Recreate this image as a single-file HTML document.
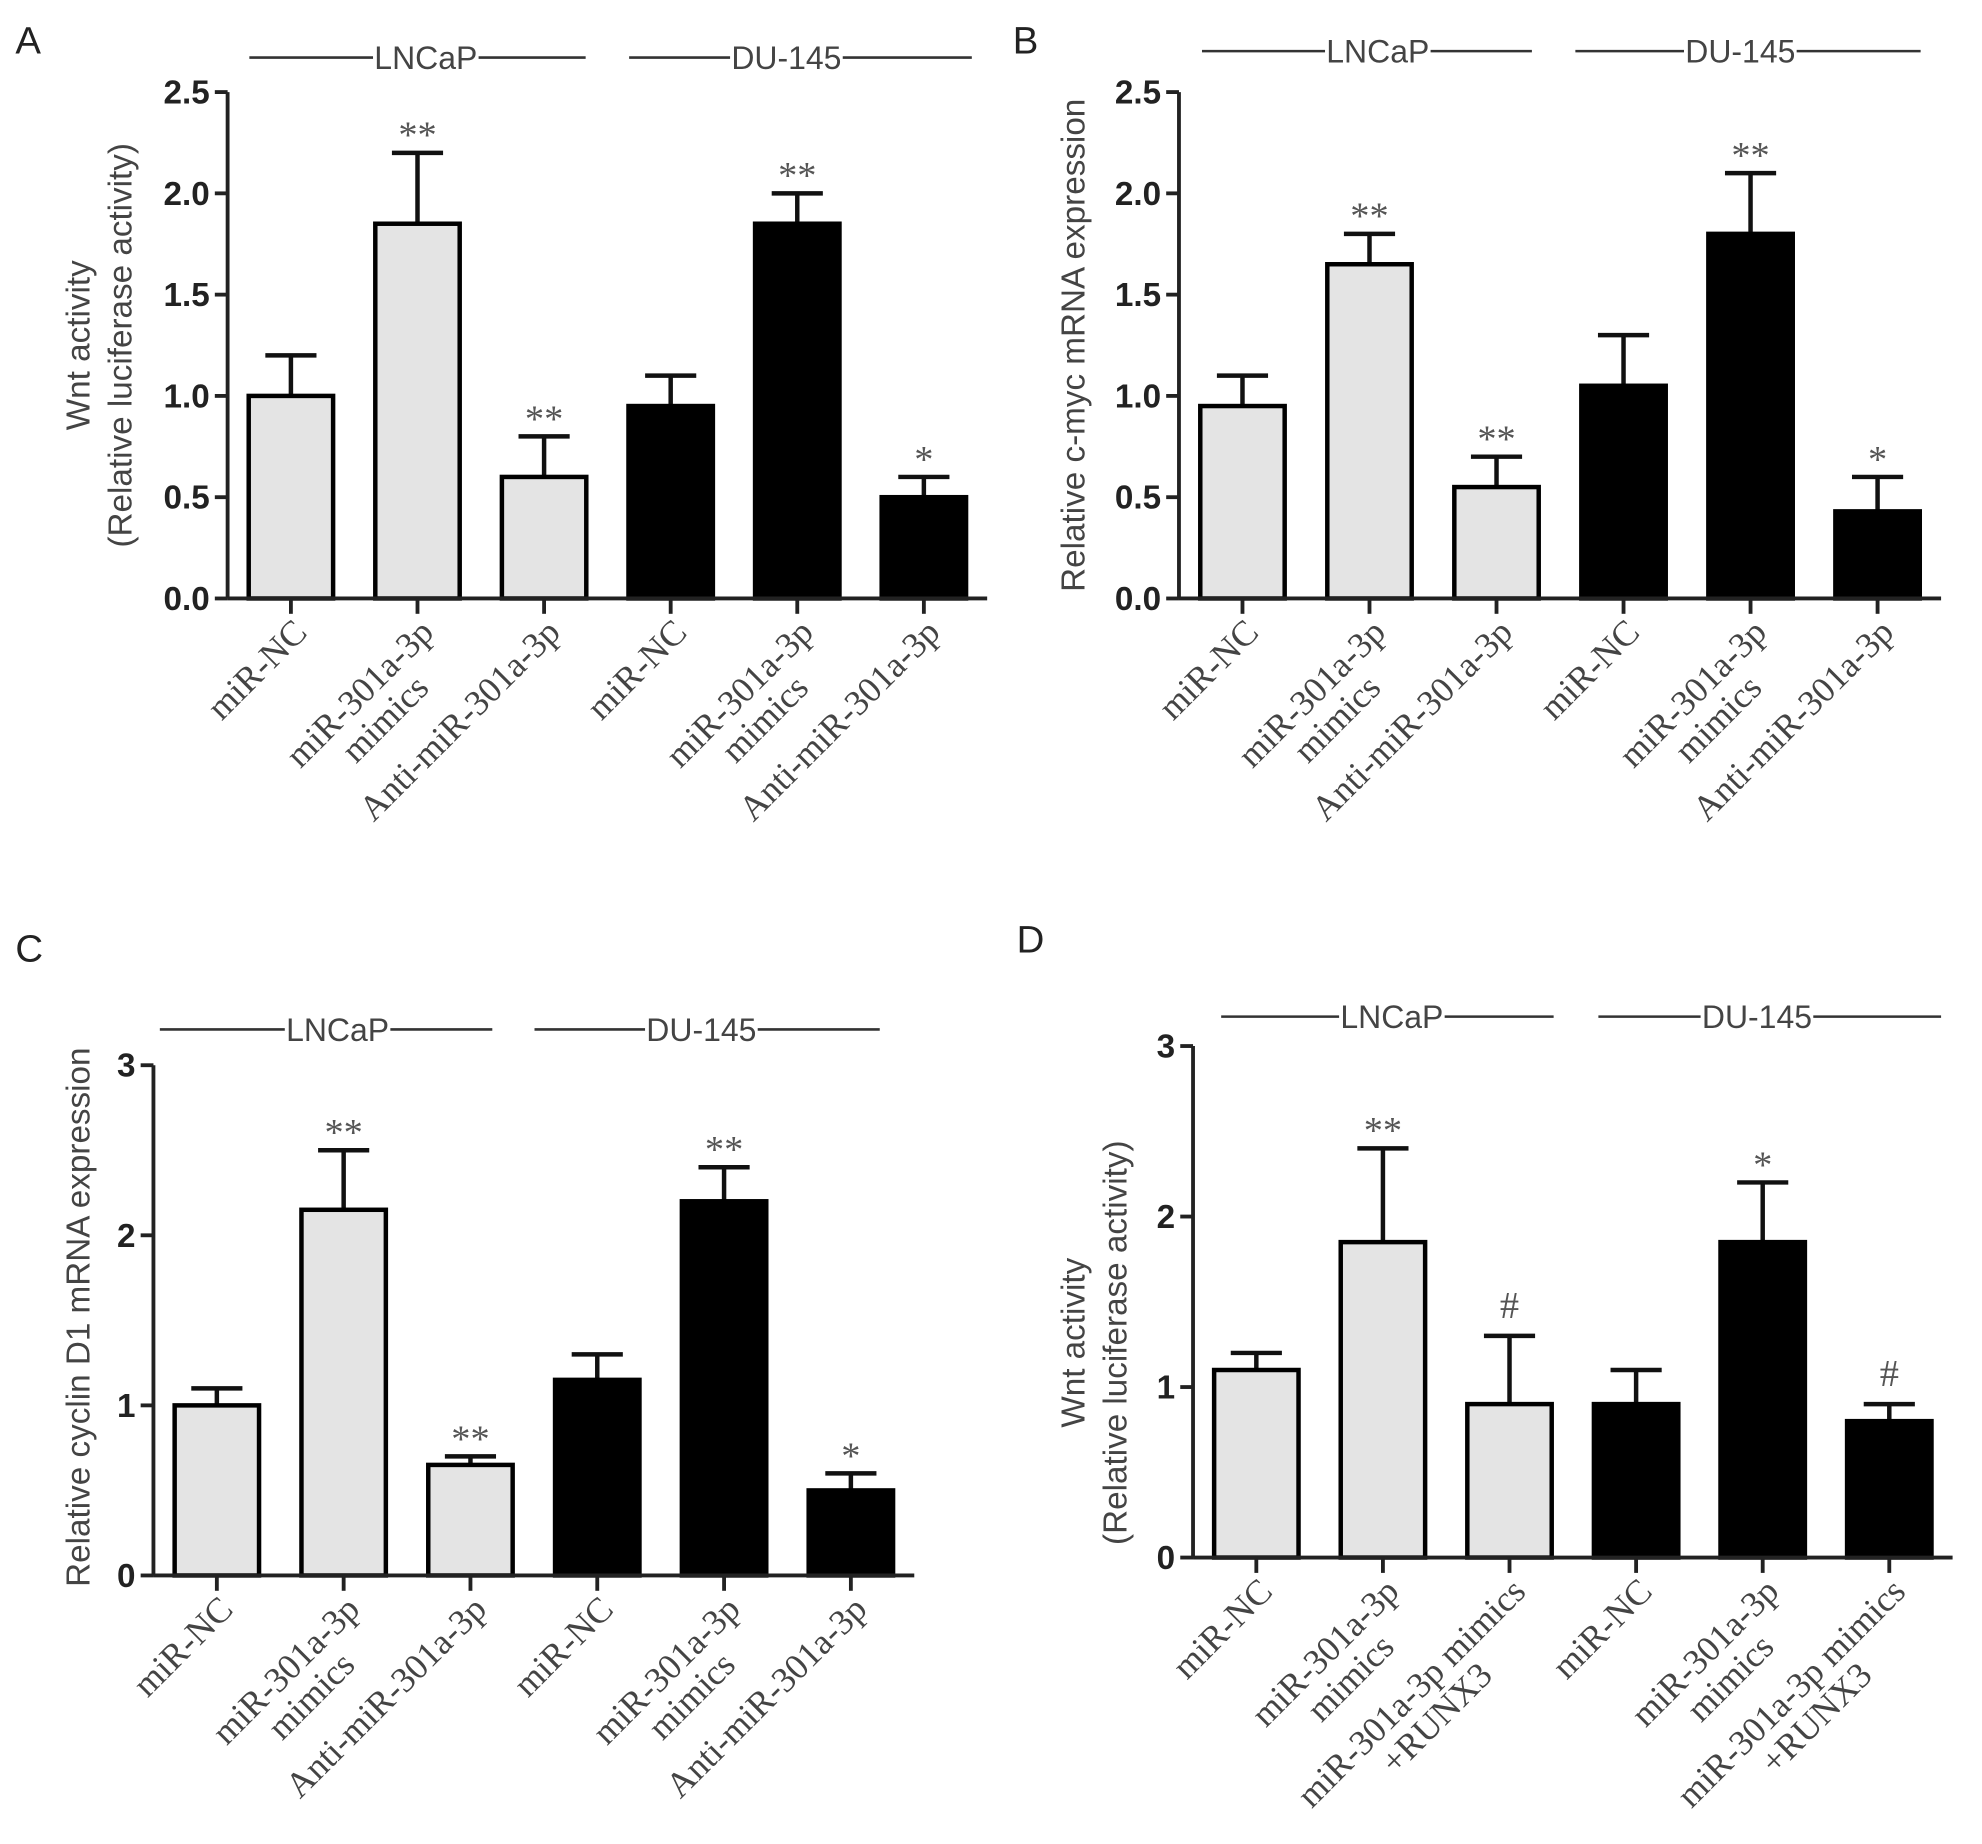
<!DOCTYPE html>
<html><head><meta charset="utf-8">
<style>
html,body{margin:0;padding:0;background:#fff;}
svg{display:block;}
.tick{font-family:"Liberation Sans",sans-serif;font-weight:bold;font-size:26px;fill:#222;}
.cat{font-family:"Liberation Serif",serif;font-size:28px;fill:#444;}
.ylab{font-family:"Liberation Sans",sans-serif;font-size:26px;fill:#444;}
.grp{font-family:"Liberation Sans",sans-serif;font-size:25px;fill:#444;}
.ann{font-family:"Liberation Serif",serif;font-size:30px;fill:#555;}
.pl{font-family:"Liberation Sans",sans-serif;font-size:30px;fill:#222;}
</style></head>
<body>
<svg id="fig" width="1982" height="1844" viewBox="0 0 1550 1442" preserveAspectRatio="none" xmlns="http://www.w3.org/2000/svg"></svg>
<script>
const catsA = ["miR-NC","miR-301a-3p|mimics","Anti-miR-301a-3p","miR-NC","miR-301a-3p|mimics","Anti-miR-301a-3p"];
const catsD = ["miR-NC","miR-301a-3p|mimics","miR-301a-3p mimics|+RUNX3","miR-NC","miR-301a-3p|mimics","miR-301a-3p mimics|+RUNX3"];
const valuesA = [1.0,1.85,0.6,0.95,1.85,0.5];
const errorsA = [1.2,2.2,0.8,1.1,2.0,0.6];
const annotA = ["","**","**","","**","*"];
const valuesB = [0.95,1.65,0.55,1.05,1.8,0.43];
const errorsB = [1.1,1.8,0.7,1.3,2.1,0.6];
const annotB = ["","**","**","","**","*"];
const valuesC = [1.0,2.15,0.65,1.15,2.2,0.5];
const errorsC = [1.1,2.5,0.7,1.3,2.4,0.6];
const annotC = ["","**","**","","**","*"];
const valuesD = [1.1,1.85,0.9,0.9,1.85,0.8];
const errorsD = [1.2,2.4,1.3,1.1,2.2,0.9];
const annotD = ["","**","#","","*","#"];
const ticksAB = ["0.0","0.5","1.0","1.5","2.0","2.5"];
const ticksCD = ["0","1","2","3"];

const NS="http://www.w3.org/2000/svg";
const svg=document.getElementById('fig');
function mk(tag,attrs,parent){const e=document.createElementNS(NS,tag);for(const k in attrs)e.setAttribute(k,attrs[k]);(parent||svg).appendChild(e);return e;}

function panel(p){
  const g=mk('g',{});
  
  
  const ymax=parseFloat(p.ticks[p.ticks.length-1]);
  const yS=v=>p.y0-(v/ymax)*(p.y0-p.ytop);
  const step=(p.xend-p.ax)/6;
  const xC=i=>p.ax+step*(i+0.5);
  const pl=mk('text',{x:p.lx,y:p.ly,class:'pl'},g);pl.textContent=p.id;
  
  
  const ya=mk('line',{x1:p.ax,y1:p.ytop,x2:p.ax,y2:p.y0,stroke:'#222','stroke-width':3},g);
  
  
  p.ticks.forEach(t=>{
    const y=yS(parseFloat(t));
    mk('line',{x1:p.ax-10,y1:y,x2:p.ax,y2:y,stroke:'#222','stroke-width':3},g);
    const tx=mk('text',{x:p.ax-14,y:y+9,class:'tick','text-anchor':'end'},g);tx.textContent=t;
    
    
  });
  p.values.forEach((v,i)=>{
    const cx=xC(i),w=66,dark=i>=3;
    const yt=yS(v),ye=yS(p.errors[i]);
    mk('line',{x1:cx,y1:yt,x2:cx,y2:ye,stroke:'#111','stroke-width':3.5},g);
    mk('line',{x1:cx-20,y1:ye,x2:cx+20,y2:ye,stroke:'#111','stroke-width':3.5},g);
    const r=mk('rect',{x:cx-w/2,y:yt,width:w,height:p.y0-yt,fill:dark?'#000':'#e4e4e4',stroke:'#000','stroke-width':3.5},g);
    
    
    if(p.annot[i]){
      const a=mk('text',{x:cx,y:ye-(p.annot[i]==='#'?14:4),class:'ann','text-anchor':'middle'},g);a.textContent=p.annot[i];
      
      
    }
    mk('line',{x1:cx,y1:p.y0,x2:cx,y2:p.y0+12,stroke:'#222','stroke-width':3},g);
    const lines=p.cats[i].split('|');
    const lg=mk('g',{},g);
    
    
    const t1=mk('text',{class:'cat','text-anchor':'middle',x:0,y:0},lg);t1.textContent=lines[0];
    const w1=t1.getComputedTextLength();
    t1.setAttribute('x',-w1/2);
    if(lines[1]){const t2=mk('text',{class:'cat','text-anchor':'middle',x:-w1/2,y:28},lg);t2.textContent=lines[1];}
    lg.setAttribute('transform','translate('+(cx+14)+','+(p.y0+28)+') rotate(-45)');
  });
  const xa=mk('line',{x1:p.ax,y1:p.y0,x2:p.xend,y2:p.y0,stroke:'#222','stroke-width':3},g);
  
  
  const yl=mk('text',{class:'ylab','text-anchor':'middle',transform:'translate('+p.ylx+','+p.ylc+') rotate(-90)'},g);
  
  
  if(p.ylab2){
    const a=mk('tspan',{x:0,y:0},yl);a.textContent=p.ylab;
    const b=mk('tspan',{x:0,y:33},yl);b.textContent=p.ylab2;
  } else yl.textContent=p.ylab;
  p.groups.forEach(gr=>{
    const gg=mk('g',{},g);
    
    
    const cxm=(gr.b+gr.c)/2;
    const t=mk('text',{x:cxm,y:p.gy+9,class:'grp','text-anchor':'middle'},gg);t.textContent=gr.t;
    const tw=t.getComputedTextLength();
    mk('line',{x1:gr.a,y1:p.gy,x2:cxm-tw/2-1,y2:p.gy,stroke:'#333','stroke-width':2},gg);
    mk('line',{x1:cxm+tw/2+1,y1:p.gy,x2:gr.d,y2:p.gy,stroke:'#333','stroke-width':2},gg);
  });
}
panel({id:'A',lx:12,ly:42,ax:178,ytop:72,y0:468,xend:772,ticks:ticksAB,values:valuesA,errors:errorsA,annot:annotA,cats:catsA,
  ylx:70,ylc:270,ylab:'Wnt activity',ylab2:'(Relative luciferase activity)',gy:45,
  groups:[{t:'LNCaP',a:195,b:284,c:382,d:458},{t:'DU-145',a:492,b:561,c:669,d:760}]});
panel({id:'B',lx:792,ly:42,ax:922,ytop:72,y0:468,xend:1518,ticks:ticksAB,values:valuesB,errors:errorsB,annot:annotB,cats:catsA,
  ylx:848,ylc:270,ylab:'Relative  c-myc mRNA expression',gy:40,
  groups:[{t:'LNCaP',a:940,b:1031,c:1124,d:1198},{t:'DU-145',a:1232,b:1311,c:1411,d:1502}]});
panel({id:'C',lx:12,ly:752,ax:120,ytop:833,y0:1232,xend:715,ticks:ticksCD,values:valuesC,errors:errorsC,annot:annotC,cats:catsA,
  ylx:70,ylc:1030,ylab:'Relative  cyclin D1 mRNA expression',gy:805,
  groups:[{t:'LNCaP',a:125,b:216,c:312,d:385},{t:'DU-145',a:418,b:498,c:599,d:688}]});
panel({id:'D',lx:795,ly:745,ax:933,ytop:818,y0:1218,xend:1527,ticks:ticksCD,values:valuesD,errors:errorsD,annot:annotD,cats:catsD,
  ylx:848,ylc:1050,ylab:'Wnt activity',ylab2:'(Relative luciferase activity)',gy:795,
  groups:[{t:'LNCaP',a:955,b:1036,c:1141,d:1215},{t:'DU-145',a:1250,b:1321,c:1427,d:1518}]});
</script>
</body></html>
